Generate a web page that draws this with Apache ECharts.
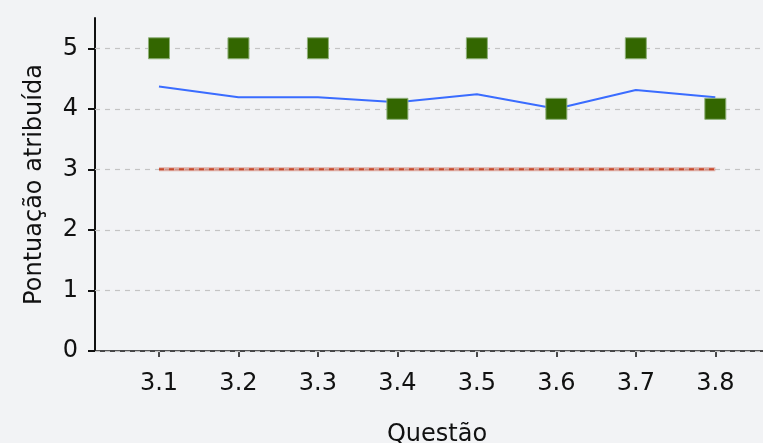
<!DOCTYPE html>
<html>
<head>
<meta charset="utf-8">
<script src="https://cdn.jsdelivr.net/npm/echarts@6/dist/echarts.min.js"></script>
<style>
  html, body { margin: 0; padding: 0; background: #f2f3f5; }
  #chart { width: 763px; height: 443px; }
</style>
</head>
<body>
<div id="chart"></div>
<script>
    var categories = ['3.1', '3.2', '3.3', '3.4', '3.5', '3.6', '3.7', '3.8'];
    var mediaValues = [4.37, 4.19, 4.19, 4.11, 4.24, 4.0, 4.31, 4.19];
    var refValues = [3, 3, 3, 3, 3, 3, 3, 3];
    var pontuacao = [5, 5, 5, 4, 5, 4, 5, 4];
    var yTicks = [0, 1, 2, 3, 4, 5];

    var pairs = function (arr) {
        return arr.map(function (v, i) { return [i, v]; });
    };
    var idx = categories.map(function (c, i) { return i; });

    var myChart = echarts.init(document.getElementById('chart'));
    var font = 'DejaVu Sans';
    var option = {
        backgroundColor: '#f2f3f5',
        animation: false,
        grid: {
            left: 95,
            right: 0,
            top: 18,
            bottom: 92,
            outerBoundsMode: 'none',
            containLabel: false
        },
        xAxis: {
            type: 'value',
            min: -0.805,
            max: 7.6,
            name: 'Questão',
            nameLocation: 'middle',
            nameGap: 72,
            nameTextStyle: { color: '#111', fontSize: 24, fontFamily: font, padding: [0, 0, 0, 16] },
            axisLine: { show: true, onZero: false, lineStyle: { color: '#111', width: 1.5 } },
            axisTick: { show: true, customValues: idx, length: 6, lineStyle: { color: '#111', width: 1.5 } },
            axisLabel: {
                customValues: idx,
                margin: 21,
                color: '#111',
                fontSize: 24,
                fontFamily: font,
                formatter: function (v) { return categories[Math.round(v)]; }
            },
            splitLine: { show: false }
        },
        yAxis: {
            type: 'value',
            min: 0,
            max: 5.5,
            name: 'Pontuação atribuída',
            nameLocation: 'middle',
            nameGap: 48,
            nameTextStyle: { color: '#111', fontSize: 24, fontFamily: font },
            axisLine: { show: true, onZero: false, lineStyle: { color: '#111', width: 2 } },
            axisTick: { show: true, customValues: yTicks, length: 7, lineStyle: { color: '#111', width: 2 } },
            axisLabel: {
                customValues: yTicks,
                margin: 17,
                color: '#111',
                fontSize: 24,
                fontFamily: font
            },
            splitLine: { show: false }
        },
        series: [{
            type: 'line',
            data: pairs(refValues),
            symbol: 'none',
            lineStyle: { color: 'rgba(200, 90, 70, 0.45)', width: 4 },
            z: 2,
            markLine: {
                silent: true,
                symbol: 'none',
                label: { show: false },
                lineStyle: { color: '#c4c4c4', width: 1.2, type: [5, 5] },
                data: yTicks.map(function (t) { return { yAxis: t }; }),
                z: 1
            }
        }, {
            type: 'line',
            data: pairs(refValues),
            symbol: 'none',
            lineStyle: { color: '#c8482a', width: 2, type: [5, 5] },
            z: 3
        }, {
            type: 'line',
            data: pairs(mediaValues),
            symbol: 'none',
            lineStyle: { color: '#3a6cff', width: 2 },
            z: 4
        }, {
            type: 'scatter',
            data: pairs(pontuacao),
            symbol: 'rect',
            symbolSize: 21,
            itemStyle: {
                color: '#336600',
                opacity: 1,
                borderColor: '#8fb07a',
                borderWidth: 1
            },
            z: 5
        }]
    };
    myChart.setOption(option);
</script>
</body>
</html>
